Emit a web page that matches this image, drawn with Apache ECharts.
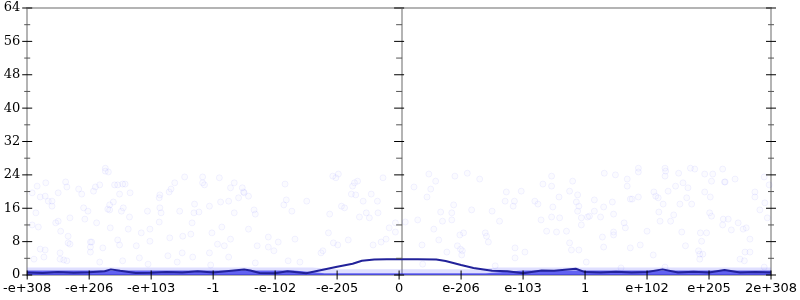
<!DOCTYPE html>
<html><head><meta charset="utf-8">
<script src="https://cdn.jsdelivr.net/npm/echarts@6/dist/echarts.min.js"></script>
<style>html,body{margin:0;padding:0;background:#fff}#c{width:800px;height:300px}</style>
</head><body><div id="c"></div>
<script>
// tick labels for the x positions 0..12
const xLabels = ['-e+308','-e+206','-e+103','-1','-e-102','-e-205','0','e-206','e-103','1','e+102','e+205','2e+308'];
const yMin = 0, yMax = 64, yStep = 8;
// vertical axes are drawn at these x positions (left edge, zero, right edge)
const verticalAxesAt = [0, 6, 12];

// individual samples (x in tick units, y value)
const samples = [
[1.26,24.9],[1.31,24.7],[2.54,23.5],[2.83,23.5],[0.30,22.1],[0.62,22.3],[0.64,21.1],[0.16,21.3],[0.83,20.6],[1.10,21.1],
[1.17,21.6],[1.41,21.6],[1.46,21.6],[1.54,21.8],[1.58,21.8],[2.38,22.1],[2.32,20.6],[2.29,19.9],[2.14,19.2],[2.13,18.5],
[2.83,22.1],[2.86,21.6],[3.10,23.3],[0.08,19.7],[0.21,18.7],[0.29,18.9],[0.50,19.7],[0.88,19.4],[1.07,20.1],[1.49,19.4],
[1.66,19.7],[0.34,17.7],[0.40,17.7],[0.40,16.5],[1.39,17.5],[1.33,16.8],[1.30,15.8],[1.33,15.6],[1.52,15.3],[1.55,16.1],
[0.91,16.1],[0.98,15.3],[0.14,14.9],[1.94,15.3],[2.14,16.1],[2.16,14.9],[2.46,15.3],[2.70,17.0],[2.77,15.1],[2.69,14.9],
[2.94,16.5],[3.12,17.5],[1.65,13.9],[2.13,12.7],[2.66,12.5],[0.69,13.7],[0.93,13.4],[0.50,12.9],[0.46,12.5],[1.12,12.5],
[0.08,12.0],[0.18,11.5],[1.34,11.3],[1.63,11.0],[1.84,10.1],[1.98,11.0],[0.54,10.5],[0.66,9.3],[2.98,10.1],[2.30,8.9],
[2.51,9.3],[2.64,9.8],[1.02,7.9],[1.04,7.9],[1.46,8.4],[1.49,7.2],[1.98,8.1],[0.66,7.7],[0.69,7.4],[3.07,7.4],
[0.21,6.2],[0.29,6.0],[0.53,5.3],[1.02,6.7],[1.02,5.5],[1.22,6.5],[1.76,7.0],[2.50,5.3],[2.94,5.3],[0.27,4.3],
[0.53,3.8],[0.59,3.6],[0.64,3.4],[1.17,3.1],[1.54,3.4],[1.81,4.1],[2.27,4.6],[2.67,4.3],[0.11,3.8],[1.95,2.6],
[2.42,3.1],[2.96,2.4],[1.26,25.6],
[3.34,22.1],[3.28,20.9],[3.47,20.9],[3.49,19.9],[3.50,19.7],[3.57,18.9],[3.41,18.5],[3.25,17.7],[3.34,14.9],[3.66,15.6],
[3.68,14.6],[4.16,21.8],[4.14,16.8],[4.18,18.0],[4.27,15.3],[4.51,17.7],[4.93,23.7],[4.98,23.3],[5.02,24.2],[5.28,22.1],
[5.33,22.5],[5.25,21.3],[5.23,19.4],[5.30,19.2],[5.74,23.3],[5.55,19.4],[5.42,17.7],[5.65,17.7],[5.07,16.5],[5.12,16.1],
[4.88,14.6],[5.47,14.9],[5.66,14.9],[5.36,13.9],[5.52,13.7],[3.14,11.5],[3.57,11.0],[3.28,8.6],[3.89,9.1],[4.05,7.9],
[4.32,8.6],[4.86,10.1],[5.18,8.4],[5.84,11.3],[5.71,7.9],[5.79,8.6],[5.58,7.2],[4.94,7.7],[5.01,7.2],[3.18,7.0],
[3.71,7.0],[3.89,6.7],[3.98,5.8],[4.77,5.8],[4.74,5.3],[3.25,4.3],[4.21,3.4],[4.40,3.1],[3.68,2.9],[5.94,12.5],[5.94,10.3],
[6.48,24.2],[6.90,23.7],[7.10,24.4],[6.59,22.5],[6.24,21.1],[6.51,20.6],[6.45,18.7],[7.30,23.0],[6.88,16.8],[6.67,15.1],
[6.85,14.9],[6.70,12.9],[6.85,13.2],[6.30,13.2],[6.10,12.7],[7.17,15.6],[7.50,15.3],[7.62,12.9],[6.56,11.0],[6.98,9.6],
[7.04,10.1],[7.39,10.1],[7.41,9.3],[7.44,7.9],[6.64,8.4],[6.37,7.2],[6.94,7.0],[6.99,6.2],[7.02,5.8],[6.77,5.5],
[7.01,4.8],[7.73,19.9],[7.71,17.7],[7.86,17.7],[7.84,16.5],[7.97,20.1],[8.19,17.7],[8.24,17.0],[7.87,6.5],[8.03,5.5],
[7.87,4.1],[8.32,21.8],[8.46,21.3],[8.46,23.7],[8.80,22.5],[8.75,20.1],[8.58,18.7],[8.88,19.2],[8.86,17.5],[8.90,16.5],
[8.88,15.3],[8.48,16.3],[8.29,13.2],[8.46,13.9],[8.59,13.7],[8.94,13.7],[8.94,12.0],[9.04,13.9],[9.07,14.1],[9.15,15.3],
[8.38,10.5],[8.54,10.3],[8.70,10.5],[8.75,7.7],[8.78,6.0],[8.90,6.0],[9.02,3.1],[6.38,2.6],[7.55,2.2],
[9.31,24.4],[9.49,24.0],[9.86,24.7],[9.68,23.0],[9.68,21.3],[10.30,24.9],[10.29,23.7],[10.51,24.4],[10.77,25.4],[10.93,24.2],
[11.06,24.2],[11.04,22.5],[11.22,25.4],[11.25,22.3],[11.26,22.3],[11.42,23.0],[11.89,23.5],[11.97,21.6],[9.15,18.0],[9.44,17.5],
[9.73,18.2],[9.76,18.2],[9.86,18.7],[10.11,19.9],[10.14,18.9],[10.18,18.5],[10.34,20.1],[10.46,21.3],[10.58,22.1],[10.66,20.9],
[10.26,17.0],[10.53,17.0],[10.64,18.5],[10.72,17.0],[10.93,19.9],[11.02,18.7],[9.30,16.3],[9.25,13.9],[9.46,14.6],[10.19,15.1],
[10.43,14.4],[10.38,12.9],[10.21,12.9],[11.01,14.9],[11.04,14.1],[11.23,13.4],[11.31,13.4],[11.36,10.8],[11.22,12.0],[11.47,12.5],
[11.55,11.0],[11.60,11.3],[11.74,19.9],[11.74,18.7],[11.90,17.3],[11.82,15.6],[11.94,13.7],[9.63,12.5],[9.65,11.3],[9.46,10.3],
[9.46,9.6],[10.00,10.5],[10.56,10.3],[10.86,10.1],[10.96,10.1],[9.28,9.1],[10.88,8.1],[11.66,8.6],[9.30,6.7],[9.73,6.5],
[9.89,7.2],[10.62,7.0],[10.90,5.0],[10.83,5.8],[10.85,5.0],[11.58,5.5],[11.66,5.5],[10.10,4.8],[10.85,3.8],[11.50,3.8],
[11.57,3.4],[10.29,1.9],[9.58,1.7],[11.89,1.9],[9.86,25.6],[10.29,25.6],[10.70,25.6]
];

// dense band of samples close to zero: upper edge of light and dark parts
const bandLight = [[0,1.8],[4.6,1.8],[5.0,1.4],[7.2,1.4],[7.6,1.8],[12,1.8]];
const bandDark  = [[0,1.1],[4.3,1.1],[4.8,0.4],[7.4,0.4],[8.0,1.1],[12,1.1]];

// running summary line
const lineX = [0,0.25,0.5,0.75,1.0,1.25,1.35,1.5,1.75,2.0,2.25,2.5,2.75,3.0,3.25,3.5,3.6,3.75,4.0,4.2,4.5,4.75,5.0,5.25,5.4,5.6,5.8,6.0,6.3,6.6,6.75,7.0,7.2,7.5,7.75,8.0,8.3,8.5,8.85,9.0,9.25,9.5,9.75,10.0,10.25,10.5,10.75,11.0,11.25,11.5,11.75,12.0];
const lineY = [0.6,0.5,0.7,0.55,0.65,0.9,1.35,1.0,0.5,0.55,0.7,0.6,0.9,0.6,0.95,1.3,1.1,0.5,0.4,0.9,0.4,1.2,2.0,2.7,3.4,3.7,3.8,3.75,3.75,3.7,3.35,2.4,1.7,1.0,0.9,0.4,1.1,1.0,1.5,0.7,0.6,0.8,0.6,0.7,1.35,0.6,0.8,0.6,1.2,0.6,0.7,0.6];

// tick positions, built from the axis definitions
const majorYTicks = [], minorYTicks = [], xTicks = [];
verticalAxesAt.forEach(ax => {
  for (let v = yMin; v <= yMax; v += yStep) majorYTicks.push([ax, v]);
  for (let v = yMin + yStep / 2; v < yMax; v += yStep) minorYTicks.push([ax, v]);
});
xLabels.forEach((_, i) => xTicks.push([i, yMin]));

const AXC = '#b4b4b4';
function yAx(position, offset, labels) {
  return {
    type: 'value', min: yMin, max: yMax, interval: yStep, position: position, offset: offset,
    axisLine: {show: true, onZero: false, lineStyle: {color: AXC, width: 2}},
    axisTick: {show: false}, minorTick: {show: false},
    axisLabel: {show: labels, margin: 7, fontFamily: 'DejaVu Serif', fontSize: 13, color: '#000'},
    splitLine: {show: false}
  };
}
function xAx(position, labels) {
  return {
    type: 'value', min: 0, max: xLabels.length - 1, interval: 1, position: position,
    axisLine: {show: true, onZero: false, lineStyle: {color: AXC, width: 2}},
    axisTick: {show: false},
    axisLabel: {show: labels, margin: 7, fontFamily: 'DejaVu Sans', fontSize: 13, color: '#000',
      formatter: v => xLabels[Math.round(v)] || ''},
    splitLine: {show: false}
  };
}
function tickSeries(data, size, color) {
  return {type: 'scatter', data: data, symbol: 'rect', symbolSize: size, clip: false, silent: true,
          itemStyle: {color: color, opacity: 1}, z: 10};
}

const chart = echarts.init(document.getElementById('c'));
chart.setOption({
  animation: false,
  grid: {left: 24, right: 26, top: 8, bottom: 25},
  xAxis: [xAx('bottom', true), xAx('top', false)],
  yAxis: [yAx('left', 0, true), yAx('left', -375, false), yAx('right', 0, false)],
  series: [
    {type: 'line', data: bandLight, symbol: 'none', lineStyle: {width: 0},
     areaStyle: {color: 'rgba(90,90,255,0.28)', origin: 'start'}, z: 2},
    {type: 'scatter', data: samples, symbol: 'circle', symbolSize: 6,
     itemStyle: {color: 'rgba(0,0,255,0.02)', borderColor: 'rgba(0,0,255,0.07)', borderWidth: 1}, z: 3},
    {type: 'line', data: bandDark, symbol: 'none', lineStyle: {width: 0},
     areaStyle: {color: 'rgba(25,25,235,0.9)', origin: 'start'}, z: 4},
    {type: 'line', data: lineX.map((x, i) => [x, lineY[i]]), symbol: 'none',
     lineStyle: {color: '#22229a', width: 2}, z: 5},
    tickSeries(majorYTicks, [10, 1], '#000'),
    tickSeries(minorYTicks, [6, 1], '#555'),
    tickSeries(xTicks, [1, 9], '#000')
  ]
});
</script></body></html>
